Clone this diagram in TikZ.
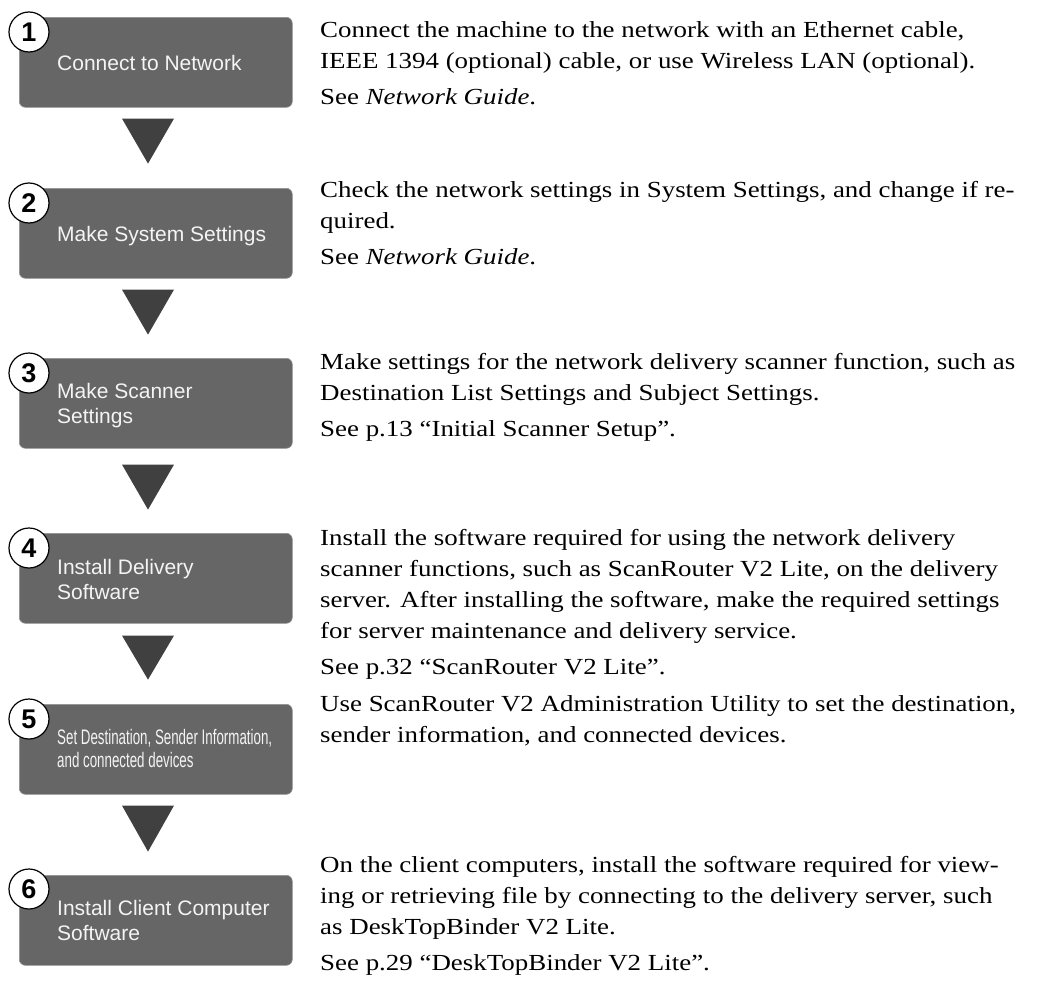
\documentclass[tikz,border=0pt]{standalone}
\usepackage{fontspec}
\usetikzlibrary{calc}
\newfontfamily\boxsans{Liberation Sans}
\newfontfamily\narrowsans[FakeStretch=0.635]{Liberation Sans}
\newfontfamily\palfont[FakeStretch=1.17]{Liberation Serif}
\definecolor{boxgray}{HTML}{666666}
\definecolor{trigray}{HTML}{404040}
\definecolor{boxtext}{HTML}{F4F4F4}
\tikzset{
  stepbox/.style={fill=boxgray, draw=boxgray!70!white, line width=0.6pt, rounded corners=6pt,
    minimum width=273pt, minimum height=90pt, inner sep=0pt, anchor=north west},
  boxlabel/.style={anchor=north west, inner sep=0pt, align=left, text=boxtext,
    font=\boxsans\fontsize{21}{25}\selectfont},
  narrowlabel/.style={anchor=north west, inner sep=0pt, align=left, text=boxtext,
    font=\narrowsans\fontsize{21}{23}\selectfont},
  numcircle/.style={circle, fill=white, draw=black, line width=1.2pt, minimum size=40pt,
    inner sep=0pt, font=\boxsans\bfseries\fontsize{27}{27}\selectfont},
  desc/.style={anchor=north west, inner sep=0pt, align=left,
    font=\palfont\fontsize{23}{31}\selectfont},
  arrowtri/.style={fill=trigray},
}
\begin{document}
\begin{tikzpicture}[x=1pt,y=-1pt]
\useasboundingbox (0,0) rectangle (1039,985);
% boxes
\node[stepbox] (b1) at (19,17) {};
\node[stepbox] (b2) at (19,188) {};
\node[stepbox] (b3) at (19,358) {};
\node[stepbox] (b4) at (19,533) {};
\node[stepbox] (b5) at (19,704) {};
\node[stepbox] (b6) at (19,875) {};
% box labels (north = baseline - 17.5)
\node[boxlabel] (t1) at (57,52.5) {\strut Connect to Network};
\node[boxlabel] (t2) at (57,223.5) {\strut Make System Settings};
\node[boxlabel] (t3) at (57,380.5) {\strut Make Scanner\\Settings};
\node[boxlabel] (t4) at (57,556.5) {\strut Install Delivery\\Software};
\node[narrowlabel] (t5) at (57,727.9) {\strut Set Destination, Sender Information,\\and connected devices};
\node[boxlabel] (t6) at (57,897.5) {\strut Install Client Computer\\Software};
% number circles
\node[numcircle] (c1) at (29,32) {1};
\node[numcircle] (c2) at (29,203) {2};
\node[numcircle] (c3) at (29,373) {3};
\node[numcircle] (c4) at (29,548) {4};
\node[numcircle] (c5) at (29,719) {5};
\node[numcircle] (c6) at (29,889) {6};
% triangles
\fill[arrowtri] ($(b1.south west)+(103,11)$) -- ++(52,0) -- ++(-26,45) -- cycle;
\fill[arrowtri] ($(b2.south west)+(103,11)$) -- ++(52,0) -- ++(-26,45) -- cycle;
\fill[arrowtri] ($(b3.south west)+(103,16)$) -- ++(52,0) -- ++(-26,45) -- cycle;
\fill[arrowtri] ($(b4.south west)+(103,12)$) -- ++(52,0) -- ++(-26,44) -- cycle;
\fill[arrowtri] ($(b5.south west)+(103,11)$) -- ++(52,0) -- ++(-26,46) -- cycle;
% descriptions (north = baseline - 21.7)
\node[desc] (d1) at (320,15.3) {\strut Connect the machine to the network with an Ethernet cable,\\
IEEE 1394 (optional) cable, or use Wireless LAN (optional).\\[5pt]
See \textit{Network Guide}.};
\node[desc] (d2) at (320,175.3) {\strut Check the network settings in System Settings, and change if re-\\
quired.\\[5pt]
See \textit{Network Guide}.};
\node[desc] (d3) at (320,347.3) {\strut Make settings for the network delivery scanner function, such as\\
Destination List Settings and Subject Settings.\\[5pt]
See p.13 “Initial Scanner Setup”.};
\node[desc] (d4) at (320,523.3) {\strut Install the software required for using the network delivery\\
scanner functions, such as ScanRouter V2 Lite, on the delivery\\
server. After installing the software, make the required settings\\
for server maintenance and delivery service.\\[5pt]
See p.32 “ScanRouter V2 Lite”.};
\node[desc] (d5) at (320,689.3) {\strut Use ScanRouter V2 Administration Utility to set the destination,\\
sender information, and connected devices.};
\node[desc] (d6) at (320,850.3) {\strut On the client computers, install the software required for view-\\
ing or retrieving file by connecting to the delivery server, such\\
as DeskTopBinder V2 Lite.\\[5pt]
See p.29 “DeskTopBinder V2 Lite”.};
\end{tikzpicture}
\end{document}
